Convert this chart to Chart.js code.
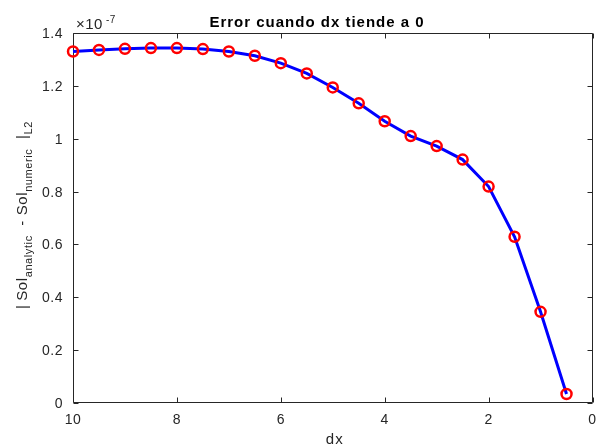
<!DOCTYPE html>
<html>
<head>
<meta charset="utf-8">
<script src="https://cdn.jsdelivr.net/npm/chart.js@4.4.1/dist/chart.umd.min.js"></script>
<style>
  html, body { margin: 0; padding: 0; background: #fff; }
</style>
</head>
<body>
<canvas id="chart" width="600" height="445"></canvas>
<script>
(function () {

  // step size and L2 error (in units of 1e-7)
  const dx = [10, 9.5, 9, 8.5, 8, 7.5, 7, 6.5, 6, 5.5, 5, 4.5, 4, 3.5, 3, 2.5, 2, 1.5, 1, 0.5];
  const errorL2 = [1.330, 1.336, 1.340, 1.343, 1.343, 1.339, 1.330, 1.314, 1.286, 1.247,
                   1.194, 1.134, 1.066, 1.010, 0.972, 0.921, 0.819, 0.629, 0.345, 0.034];
  const yFactor = 1e-7;

  const xTicks = [10, 8, 6, 4, 2, 0];
  const yTicks = [0, 0.2, 0.4, 0.6, 0.8, 1, 1.2, 1.4];

  const axisColor = '#262626';
  const font = '"Liberation Sans", Arial, Helvetica, sans-serif';

  const points = dx.map((v, i) => ({ x: v, y: errorL2[i] * yFactor }));

  // matlab-style box axes, inward ticks, labels
  const matlabAxes = {
    id: 'matlabAxes',
    beforeDatasetsDraw(chart) {
      const { ctx, chartArea: a, scales: { x, y } } = chart;
      const L = Math.round(a.left) + 0.5, R = Math.round(a.right) - 0.5;
      const T = Math.round(a.top) + 0.5, B = Math.round(a.bottom) - 0.5;
      ctx.save();
      ctx.strokeStyle = axisColor;
      ctx.lineWidth = 1;
      ctx.beginPath();
      ctx.rect(L, T, R - L, B - T);

      xTicks.forEach(v => {
        const px = Math.round(x.getPixelForValue(v)) + 0.5;
        ctx.moveTo(px, B); ctx.lineTo(px, B - 5);
        ctx.moveTo(px, T); ctx.lineTo(px, T + 5);
      });
      yTicks.forEach(v => {
        const py = Math.round(y.getPixelForValue(v * yFactor)) + 0.5;
        ctx.moveTo(L, py); ctx.lineTo(L + 5, py);
        ctx.moveTo(R, py); ctx.lineTo(R - 5, py);
      });
      ctx.stroke();

      ctx.fillStyle = axisColor;
      ctx.font = '14px ' + font;
      ctx.letterSpacing = '0.5px';
      ctx.textBaseline = 'alphabetic';
      ctx.textAlign = 'center';
      xTicks.forEach(v => {
        ctx.fillText(String(v), x.getPixelForValue(v), a.bottom + 21);
      });
      ctx.textAlign = 'right';
      yTicks.forEach(v => {
        ctx.fillText(String(v), a.left - 10, y.getPixelForValue(v * yFactor) + 5);
      });

      // exponent marker
      ctx.textAlign = 'left';
      ctx.font = '15px ' + font;
      ctx.fillText('\u00d710', a.left + 3, 29);
      const w = ctx.measureText('\u00d710').width;
      ctx.font = '10px ' + font;
      ctx.fillText('-7', a.left + 6 + w, 23);

      // x label
      ctx.font = '15px ' + font;
      ctx.letterSpacing = '1px';
      ctx.textAlign = 'center';
      ctx.fillText('dx', (a.left + a.right) / 2 + 2, 444);

      // title
      ctx.fillStyle = '#000';
      ctx.font = 'bold 15px ' + font;
      ctx.fillText('Error cuando dx tiende a 0', 317, 27);

      // y label with subscripts
      const parts = [
        ['|\u2009Sol', false], ['analytic', true], ['  - Sol', false],
        ['numeric', true], ['  |', false], ['L2', true]
      ];
      const fontFor = sub => (sub ? '11px ' : '15px ') + font;
      ctx.letterSpacing = '0.6px';
      let total = 0;
      parts.forEach(([t, sub]) => { ctx.font = fontFor(sub); total += ctx.measureText(t).width; });
      ctx.translate(27, 215);
      ctx.rotate(-Math.PI / 2);
      ctx.fillStyle = axisColor;
      ctx.textAlign = 'left';
      let cx = -total / 2;
      parts.forEach(([t, sub]) => {
        ctx.font = fontFor(sub);
        ctx.fillText(t, cx, sub ? 5 : 0);
        cx += ctx.measureText(t).width;
      });
      ctx.restore();
    }
  };

  new Chart(document.getElementById('chart').getContext('2d'), {
    type: 'line',
    data: {
      datasets: [{
        data: points,
        borderColor: '#0000ff',
        borderWidth: 3,
        tension: 0,
        pointRadius: 5,
        pointBorderWidth: 2.5,
        pointBorderColor: '#ff0000',
        pointBackgroundColor: 'rgba(0,0,0,0)',
        clip: false
      }]
    },
    options: {
      responsive: false,
      animation: false,
      layout: { padding: { left: 73, top: 33, right: 1, bottom: 42 } },
      plugins: {
        legend: { display: false },
        tooltip: { enabled: false }
      },
      scales: {
        x: { type: 'linear', display: false, reverse: true, min: 0, max: 10 },
        y: { type: 'linear', display: false, min: 0, max: 1.4 * yFactor }
      }
    },
    plugins: [matlabAxes]
  });

})();
</script>
</body>
</html>
